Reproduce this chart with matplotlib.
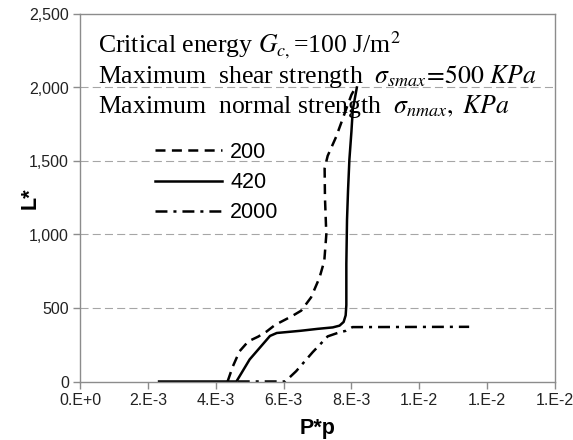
import numpy as np
import matplotlib
matplotlib.use('Agg')
import matplotlib.pyplot as plt
from matplotlib.ticker import FuncFormatter

plt.rcParams['font.family'] = ['Liberation Sans', 'DejaVu Sans']
plt.rcParams['mathtext.fontset'] = 'stix'
plt.rcParams['lines.scale_dashes'] = False

# series: P*p vs L*, labelled by max normal strength (KPa)
x_200 = [4.35e-3, 4.5e-3, 4.7e-3, 4.96e-3, 5.25e-3, 5.5e-3, 5.75e-3, 6.0e-3, 6.25e-3, 6.52e-3,
         6.81e-3, 7.06e-3, 7.2e-3, 7.26e-3, 7.22e-3, 7.21e-3, 7.3e-3, 7.55e-3, 7.7e-3, 7.84e-3,
         8.0e-3, 8.12e-3]
y_200 = [0, 100, 205, 273, 305, 340, 385, 415, 445, 482,
         572, 707, 820, 1000, 1250, 1450, 1535, 1665, 1760, 1850,
         1950, 2000]

x_420 = [2.33e-3, 3.5e-3, 4.61e-3, 5.0e-3, 5.6e-3, 5.8e-3, 6.5e-3, 7.0e-3, 7.45e-3, 7.65e-3,
         7.77e-3, 7.83e-3, 7.85e-3, 7.85e-3, 7.87e-3, 7.9e-3, 7.94e-3, 8.0e-3, 8.04e-3, 8.16e-3]
y_420 = [0, 0, 0, 150, 310, 330, 345, 358, 368, 380,
         405, 450, 520, 800, 1100, 1300, 1510, 1700, 1850, 2000]

x_2000 = [4.65e-3, 5.5e-3, 6.05e-3, 6.37e-3, 6.86e-3, 7.1e-3, 7.3e-3, 7.64e-3, 7.84e-3, 8.03e-3,
          11.47e-3]
y_2000 = [0, 0, 0, 70, 200, 258, 307, 334, 345, 370,
          372]

xticks = [0, 2e-3, 4e-3, 6e-3, 8e-3, 10e-3, 12e-3, 14e-3]
xtick_labels = ['0.E+0', '2.E-3', '4.E-3', '6.E-3', '8.E-3', '1.E-2', '1.E-2', '1.E-2']
yticks = [0, 500, 1000, 1500, 2000, 2500]

fig = plt.figure(figsize=(5.73, 4.4), dpi=100)
ax = fig.add_axes([80 / 573, 1 - 381.5 / 440, 475 / 573, 367.5 / 440])

lw = 1.8
ax.plot(x_200, y_200, color='black', lw=lw, dashes=(7.2, 4.6), label='200')
ax.plot(x_420, y_420, color='black', lw=lw, label='420')
ax.plot(x_2000, y_2000, color='black', lw=lw, dashes=(8.6, 4.3, 2.2, 4.3), label='2000')

ax.set_xlim(0, 14e-3)
ax.set_ylim(0, 2500)
ax.set_xticks(xticks)
ax.set_xticklabels(xtick_labels)
ax.set_yticks(yticks)
ax.yaxis.set_major_formatter(FuncFormatter(lambda v, p: f'{int(v):,}'))

for y in yticks[1:-1]:
    ax.axhline(y, color='#a6a6a6', lw=0.8, dashes=(5.8, 3.0), zorder=0)

for s in ax.spines.values():
    s.set_color('#8c8c8c')
    s.set_linewidth(1.0)
ax.tick_params(axis='both', direction='out', length=5, width=1, color='#8c8c8c',
               labelsize=11.5, labelcolor='#222222', pad=3)

ax.set_xlabel('P*p', fontsize=15.5, fontweight='bold')
ax.set_ylabel('L*', fontsize=15.5, fontweight='bold')
ax.xaxis.set_label_coords(0.5, (381.5 - 418) / 367.5)
ax.yaxis.set_label_coords((41 - 80) / 475, (381.5 - 198) / 367.5)

serif = ['Liberation Serif', 'DejaVu Serif']
tx = (98 - 80) / 475
ax.text(tx, 1 - (53 - 14) / 367.5, r'Critical energy $G_{c,}$=100 J/m$^{2}$',
        transform=ax.transAxes, fontsize=18.5, family=serif, va='baseline')
ax.text(tx, 1 - (83 - 14) / 367.5,
        r'Maximum  shear strength  $\sigma_{smax}\!=\!\mathit{500\ KPa}$',
        transform=ax.transAxes, fontsize=18.5, family=serif, va='baseline')
ax.text(tx, 1 - (113 - 14) / 367.5, r'Maximum  normal strength  $\sigma_{nmax},\ \mathit{KPa}$',
        transform=ax.transAxes, fontsize=18.5, family=serif, va='baseline')

leg = ax.legend(loc='upper left', bbox_to_anchor=((155 - 80) / 475, 1 - (142 - 14) / 367.5),
                frameon=False, fontsize=15.5, handlelength=3.1, handletextpad=0.4,
                labelspacing=0.42, borderpad=0, borderaxespad=0)

fig.savefig('out.png', dpi=100)
